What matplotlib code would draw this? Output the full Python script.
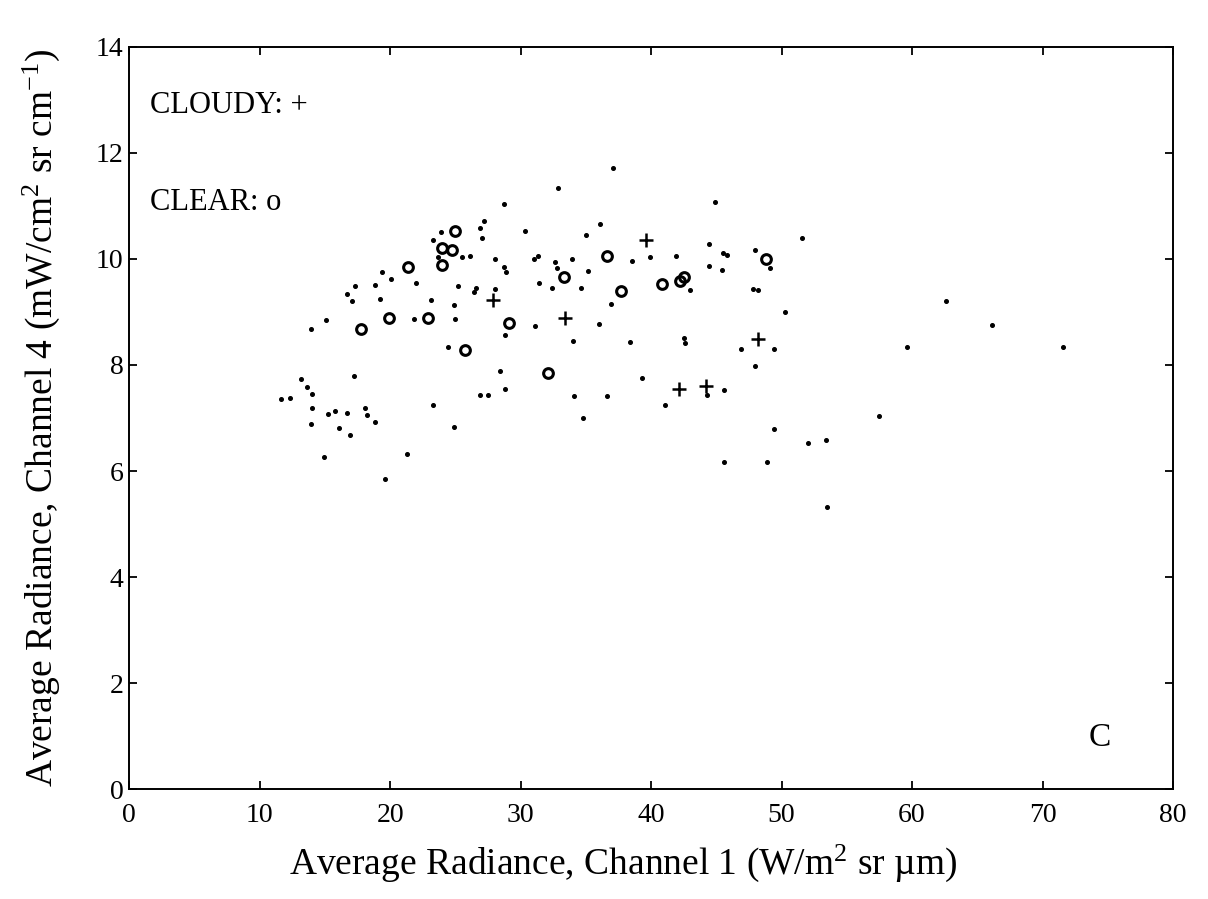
import matplotlib
matplotlib.use("Agg")
import matplotlib.pyplot as plt

plt.rcParams["font.family"] = ["Liberation Serif", "DejaVu Serif"]
plt.rcParams["mathtext.fontset"] = "custom"
plt.rcParams["mathtext.rm"] = "Liberation Serif"
plt.rcParams["mathtext.it"] = "Liberation Serif:italic"

# ---- all samples (small dots) ----
all_x = [19.4, 20.1, 17.3, 18.8, 16.7, 17.1, 19.2, 15.1, 13.9, 17.2, 13.2, 13.6,
         14.0, 11.6, 12.3, 14.0, 15.2, 15.8, 16.7, 18.1, 18.2, 18.8, 13.9, 16.1,
         16.9, 14.9, 19.6,
         37.1, 32.9, 28.7, 27.2, 26.9, 27.0, 23.9, 23.3, 30.3, 36.1, 35.0, 23.7,
         25.5, 26.1, 28.0, 28.7, 28.9, 31.0, 31.3, 32.6, 32.8, 33.9, 38.5, 39.9,
         35.2, 22.0, 25.2, 26.6, 26.4, 28.0, 31.4, 32.4, 34.6, 23.1, 24.9, 36.9,
         21.8, 25.0, 31.1, 36.0, 28.8, 34.0, 38.4, 24.4, 28.4, 39.3, 28.8, 26.9,
         27.5, 34.1, 36.6, 23.3, 34.8, 24.9, 21.3,
         44.9, 51.6, 44.4, 45.5, 45.8, 48.0, 49.1, 41.9, 44.4, 45.4, 43.0, 47.8,
         48.2, 50.3, 42.5, 42.6, 46.9, 49.4, 48.0, 59.6, 44.3, 45.6, 41.1, 57.5,
         49.4, 52.0, 53.4, 45.6, 48.9, 53.5, 62.6, 66.1, 71.6]
all_y = [9.75, 9.62, 9.49, 9.51, 9.34, 9.21, 9.25, 8.84, 8.67, 7.79, 7.73, 7.58,
         7.45, 7.35, 7.37, 7.18, 7.08, 7.14, 7.09, 7.19, 7.05, 6.93, 6.89, 6.82,
         6.68, 6.27, 5.85,
         11.72, 11.34, 11.03, 10.72, 10.58, 10.40, 10.51, 10.36, 10.53, 10.66, 10.45, 10.04,
         10.03, 10.06, 9.99, 9.84, 9.75, 10.00, 10.06, 9.95, 9.83, 10.00, 9.97, 10.04,
         9.77, 9.55, 9.49, 9.45, 9.38, 9.44, 9.55, 9.46, 9.46, 9.23, 9.14, 9.15,
         8.87, 8.87, 8.74, 8.77, 8.56, 8.46, 8.44, 8.33, 7.89, 7.76, 7.54, 7.44,
         7.43, 7.41, 7.42, 7.24, 7.01, 6.83, 6.32,
         11.07, 10.39, 10.28, 10.12, 10.07, 10.16, 9.82, 10.06, 9.87, 9.79, 9.42, 9.44,
         9.42, 9.00, 8.51, 8.41, 8.30, 8.30, 7.98, 8.34, 7.43, 7.53, 7.24, 7.03,
         6.79, 6.53, 6.58, 6.17, 6.17, 5.32, 9.21, 8.75, 8.34]

# ---- clear samples (o) ----
clear_x = [17.8, 19.9, 25.0, 24.0, 24.7, 24.0, 21.4, 36.6, 33.3, 37.7, 22.9,
           29.1, 25.7, 32.1, 40.8, 42.5, 42.2, 48.8]
clear_y = [8.68, 8.88, 10.52, 10.21, 10.16, 9.88, 9.85, 10.05, 9.65, 9.40, 8.88,
           8.80, 8.29, 7.84, 9.52, 9.65, 9.59, 9.99]

# ---- cloudy samples (+) ----
cloudy_x = [39.6, 27.9, 33.4, 48.2, 42.1, 44.2]
cloudy_y = [10.36, 9.22, 8.89, 8.49, 7.54, 7.60]

fig = plt.figure(figsize=(12.08, 8.99), dpi=100)
ax = fig.add_axes([0.107, 0.122, 0.864, 0.826])

ax.plot(all_x, all_y, "o", color="black", markersize=2.6, linestyle="none")
ax.plot(clear_x, clear_y, "o", markerfacecolor="none", markeredgecolor="black",
        markersize=7, markeredgewidth=2.2, linestyle="none")
ax.plot(cloudy_x, cloudy_y, "+", color="black", markersize=10,
        markeredgewidth=1.8, linestyle="none")

ax.set_xlim(0, 80)
ax.set_ylim(0, 14)
ax.set_xticks(range(0, 81, 10))
ax.set_yticks(range(0, 15, 2))
ax.tick_params(direction="in", length=6, width=1.3, top=True, right=True,
               labelsize=20)
ax.tick_params(axis="x", pad=10)
ax.tick_params(axis="y", pad=4)
for sp in ax.spines.values():
    sp.set_linewidth(1.4)

ax.text(1.6, 12.9, "CLOUDY: +", fontsize=22, va="center", ha="left")
ax.text(1.6, 11.06, "CLEAR: o", fontsize=22, va="center", ha="left")
ax.text(74.4, 0.98, "C", fontsize=24, va="center", ha="center")

ax.set_xlabel("Average Radiance, Channel 1 (W/m$^{2}$ sr \u00b5m)", fontsize=27)
ax.xaxis.set_label_coords(0.473, -0.072)
ax.set_ylabel("Average Radiance, Channel 4 (mW/cm$^{2}$ sr cm$^{-1}$)", fontsize=27)
ax.yaxis.set_label_coords(-0.064, 0.5)

fig.savefig("out.png", dpi=100)
